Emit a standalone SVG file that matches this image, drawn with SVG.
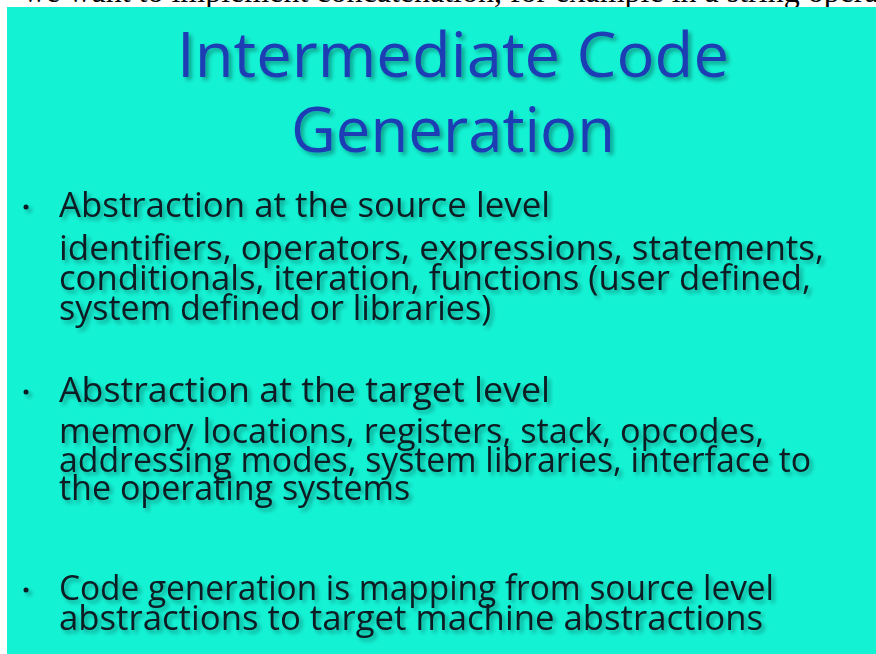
<svg xmlns="http://www.w3.org/2000/svg" width="876" height="654" viewBox="0 0 876 654">
<defs>
<style>
.title{font-family:"Open Sans","Noto Sans",sans-serif;font-size:62px;fill:#1f3db4;text-anchor:middle}
.body{font-family:"Open Sans","Noto Sans",sans-serif;font-size:34px;fill:#0c1c22}
.top{font-family:"Liberation Serif",serif;font-size:32px;fill:#000}
</style>
<filter id="sh" x="-5%" y="-20%" width="110%" height="150%">
<feDropShadow dx="3" dy="3" stdDeviation="2" flood-color="#000" flood-opacity="0.35"/>
</filter>
</defs>
<rect width="876" height="654" fill="#fff"/>
<text class="top" x="23" y="2">we want to implement concatenation, for example in a string operation</text>
<rect x="7" y="7" width="869" height="647" fill="#14f2d4"/>
<g id="title" filter="url(#sh)">
<text class="title" x="453" y="77" textLength="552" lengthAdjust="spacingAndGlyphs">Intermediate Code</text>
<text class="title" x="453" y="152" textLength="324" lengthAdjust="spacingAndGlyphs">Generation</text>
</g>
<g id="bullet1" filter="url(#sh)">
<circle cx="26" cy="207" r="2.5" fill="#0c1c22"/>
<text class="body" x="59" y="217" textLength="491" lengthAdjust="spacingAndGlyphs">Abstraction at the source level</text>
<text class="body" x="59" y="260" textLength="765" lengthAdjust="spacingAndGlyphs">identifiers, operators, expressions, statements,</text>
<text class="body" x="59" y="290" textLength="752" lengthAdjust="spacingAndGlyphs">conditionals, iteration, functions (user defined,</text>
<text class="body" x="59" y="320">system defined or libraries)</text>
</g>
<g id="bullet2" filter="url(#sh)">
<circle cx="26" cy="392" r="2.5" fill="#0c1c22"/>
<text class="body" x="59" y="402" textLength="491" lengthAdjust="spacingAndGlyphs">Abstraction at the target level</text>
<text class="body" x="59" y="443" textLength="705" lengthAdjust="spacingAndGlyphs">memory locations, registers, stack, opcodes,</text>
<text class="body" x="59" y="472" textLength="752" lengthAdjust="spacingAndGlyphs">addressing modes, system libraries, interface to</text>
<text class="body" x="59" y="500">the operating systems</text>
</g>
<g id="bullet3" filter="url(#sh)">
<circle cx="26" cy="590" r="2.5" fill="#0c1c22"/>
<text class="body" x="59" y="600" textLength="715" lengthAdjust="spacingAndGlyphs">Code generation is mapping from source level</text>
<text class="body" x="59" y="630" textLength="704" lengthAdjust="spacingAndGlyphs">abstractions to target machine abstractions</text>
</g>
</svg>
